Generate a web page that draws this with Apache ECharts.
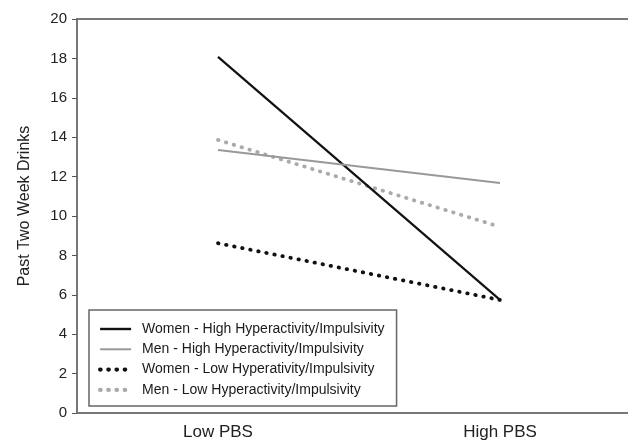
<!DOCTYPE html>
<html><head><meta charset="utf-8">
<script src="https://cdn.jsdelivr.net/npm/echarts@6/dist/echarts.min.js"></script>
<style>html,body{margin:0;padding:0;background:#fff}#c{width:628px;height:442px}</style>
</head><body><div id="c"></div>
<script>
var categories = ["Low PBS", "High PBS"];
var yTicks = [0, 20, 2];
var womenHigh = [18.08, 5.74];
var menHigh = [13.35, 11.68];
var womenLow = [8.62, 5.74];
var menLow = [13.86, 9.45];
var seriesNames = [
  "Women - High Hyperactivity/Impulsivity",
  "Men - High Hyperactivity/Impulsivity",
  "Women - Low Hyperativity/Impulsivity",
  "Men - Low Hyperactivity/Impulsivity"
];
var chart = echarts.init(document.getElementById('c'), null, {renderer: 'canvas'});
var font = 'Liberation Sans, Arial, sans-serif';
function mk(name, data, color, width, dotted) {
  return {
    name: name, type: 'line', data: data, symbol: 'none', silent: true,
    lineStyle: {color: color, width: width, type: dotted ? [0.5, 7.7] : 'solid', cap: dotted ? 'round' : 'butt'},
    itemStyle: {color: color}, z: dotted ? 3 : 4
  };
}
chart.setOption({
  animation: false,
  textStyle: {fontFamily: font},
  grid: {left: 77, top: 19, width: 564, height: 394, show: true, borderColor: '#777', borderWidth: 2, outerBoundsMode: 'none', containLabel: false},
  xAxis: {
    type: 'category', data: categories, boundaryGap: true,
    axisLine: {lineStyle: {color: '#777', width: 2}},
    axisTick: {alignWithLabel: true, length: 5, lineStyle: {color: '#555'}},
    axisLabel: {color: '#222', fontSize: 17, margin: 11, fontFamily: font}
  },
  yAxis: {
    type: 'value', min: yTicks[0], max: yTicks[1], interval: yTicks[2],
    name: 'Past Two Week Drinks', nameLocation: 'middle', nameGap: 44,
    nameTextStyle: {color: '#222', fontSize: 16, fontFamily: font, padding: [0, 0, 0, 20]},
    axisLine: {show: true, lineStyle: {color: '#777', width: 2}},
    axisTick: {show: true, length: 5, lineStyle: {color: '#555'}},
    axisLabel: {color: '#222', fontSize: 15, margin: 10, fontFamily: font},
    splitLine: {show: false}
  },
  legend: {
    orient: 'vertical', left: 89, top: 310,
    padding: [12, 12, 9, 9], itemGap: 6.3, itemWidth: 31, itemHeight: 14,
    borderColor: '#666', borderWidth: 1.5,
    itemStyle: {opacity: 0, color: 'transparent', borderWidth: 0},
    textStyle: {color: '#1a1a1a', fontSize: 14, fontFamily: font, padding: [0, 0, 0, 6]},
    data: [
      {name: seriesNames[0], lineStyle: {width: 2.4}},
      {name: seriesNames[1], lineStyle: {width: 2}},
      {name: seriesNames[2], lineStyle: {width: 4.2}},
      {name: seriesNames[3], lineStyle: {width: 4.2}}
    ]
  },
  series: [
    mk(seriesNames[0], womenHigh, '#111', 2.2, false),
    mk(seriesNames[1], menHigh, '#999', 2, false),
    mk(seriesNames[2], womenLow, '#111', 3.8, true),
    mk(seriesNames[3], menLow, '#aaa', 3.8, true)
  ]
});
</script></body></html>
